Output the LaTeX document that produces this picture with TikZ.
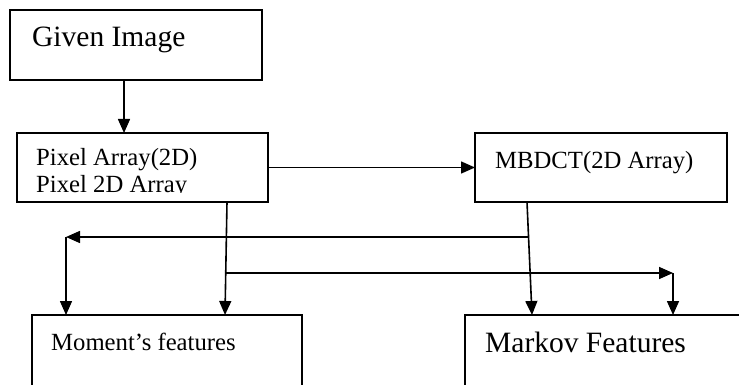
\documentclass[tikz,border=0pt]{standalone}
\usepackage{fontspec}
\setmainfont{Liberation Serif}
\usetikzlibrary{arrows.meta,calc}
\begin{document}
\begin{tikzpicture}[x=1pt,y=-1pt,
  box/.style={draw,line width=1.7pt,inner sep=0pt,outer sep=0pt,anchor=north west,rectangle},
  lbl/.style={inner sep=0pt,anchor=base west,font=\fontsize{24.7}{27}\selectfont},
  big/.style={inner sep=0pt,anchor=base west,font=\fontsize{29.5}{32}\selectfont},
  conn/.style={line width=1.6pt},
  arr/.style={conn,-{Triangle[length=14pt,width=12pt]}}]
\clip (0,0) rectangle (739,385);
\fill[white] (0,0) rectangle (739,385);
% boxes
\node[box,minimum width=252pt,minimum height=70pt] (given) at (10,10) {};
\node[box,minimum width=251pt,minimum height=69pt] (pixel) at (17,133) {};
\node[box,minimum width=252pt,minimum height=69pt] (mbdct) at (475,133) {};
\node[box,minimum width=270pt,minimum height=100pt] (moment) at (32,315) {};
\node[box,minimum width=300pt,minimum height=100pt] (markov) at (465,315) {};
% texts
\node[big] (tgiven) at (32,47) {Given Image};
\node[lbl] (tpix1) at (36,165) {Pixel Array(2D)};
\begin{scope}
\clip (0,0) rectangle (739,192);
\node[lbl] (tpix2) at (36,192) {Pixel 2D Array};
\end{scope}
\node[lbl] (tmbdct) at (495,168) {MBDCT(2D Array)};
\node[lbl] (tmoment) at (51,350) {Moment’s features};
\node[big] (tmarkov) at (485,352) {Markov Features};
% connectors
\draw[arr] ([xshift=114pt]given.south west) -- ([xshift=107pt]pixel.north west);
\draw[arr] (pixel.east) -- (mbdct.west);
\coordinate (p1) at ([xshift=210pt]pixel.south west);
\coordinate (p2) at ([xshift=193pt]moment.north west);
\draw[arr] (p1) -- (p2);
\coordinate (m1) at ([xshift=52pt]mbdct.south west);
\coordinate (m2) at ([xshift=67pt]markov.north west);
\draw[arr] (m1) -- (m2);
\coordinate (b1) at ($(p1)!0.628!(p2)$);
\coordinate (c1) at (673,273);
\draw[arr] (b1) -- (c1);
\draw[arr] (c1) -- (c1 |- markov.north);
\coordinate (b2) at ($(m1)!0.31!(m2)$);
\coordinate (c2) at (66,237);
\draw[arr] (b2) -- (c2);
\draw[arr] (c2) -- (c2 |- moment.north);
\end{tikzpicture}
\end{document}
